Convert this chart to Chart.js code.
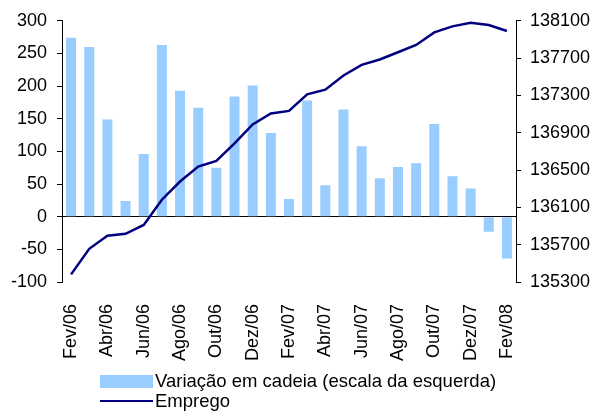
<!DOCTYPE html>
<html>
<head>
<meta charset="utf-8">
<script src="https://cdn.jsdelivr.net/npm/chart.js@4/dist/chart.umd.min.js"></script>
<style>
  body { margin: 0; background: #fff; }
  #wrap { position: relative; width: 591px; height: 412px; }
  #legend { position: absolute; left: 100px; top: 371px; font: 18.5px "Liberation Sans", Arial, sans-serif; color: #000; }
  .item { display: flex; align-items: center; height: 20px; }
  .box { width: 53px; height: 13px; background: #99ccff; margin-right: 2px; }
  .ln { width: 53px; height: 2px; background: #000080; margin-right: 2px; }
</style>
</head>
<body>
<div id="wrap">
  <canvas id="myChart" width="591" height="412"></canvas>
  <div id="legend">
    <div class="item"><span class="box"></span>Variação em cadeia (escala da esquerda)</div>
    <div class="item"><span class="ln"></span>Emprego</div>
  </div>
</div>
<script>
// meses fev/06 -> fev/08
const meses = ['Fev/06','Mar/06','Abr/06','Mai/06','Jun/06','Jul/06','Ago/06','Set/06','Out/06','Nov/06','Dez/06',
  'Jan/07','Fev/07','Mar/07','Abr/07','Mai/07','Jun/07','Jul/07','Ago/07','Set/07','Out/07','Nov/07','Dez/07',
  'Jan/08','Fev/08'];

// variação em cadeia (escala da esquerda)
const variacao = [274, 260, 149, 24, 96, 263, 193, 167, 75, 184, 201,
  128, 27, 178, 48, 164, 108, 59, 76, 82, 142, 62, 43, -23, -64];

// emprego (escala da direita)
const emprego = [135382, 135656, 135795, 135816, 135912, 136182, 136377, 136537, 136597, 136786, 136989,
  137106, 137134, 137312, 137362, 137514, 137628, 137685, 137763, 137841, 137976, 138040, 138080,
  138055, 137991];

const fonte = { family: '"Liberation Sans", Arial, sans-serif', size: 18 };

var myChart = new Chart("myChart", {
  data: {
    labels: meses,
    datasets: [
      {
        type: 'line',
        label: 'Emprego',
        data: emprego,
        yAxisID: 'y2',
        borderColor: '#000080',
        borderWidth: 2.5,
        pointRadius: 0,
        tension: 0,
        order: 0
      },
      {
        type: 'bar',
        label: 'Variação em cadeia (escala da esquerda)',
        data: variacao,
        yAxisID: 'y',
        backgroundColor: '#99ccff',
        barPercentage: 0.55,
        categoryPercentage: 1,
        order: 1
      }
    ]
  },
  options: {
    responsive: false,
    animation: false,
    layout: { padding: { top: 20, bottom: 0, left: 0, right: 0 } },
    plugins: {
      legend: { display: false },
      tooltip: { enabled: false }
    },
    scales: {
      x: {
        grid: { display: false },
        border: { display: false },
        ticks: {
          autoSkip: false,
          minRotation: 90,
          maxRotation: 90,
          padding: 14,
          color: '#000',
          font: fonte,
          callback: function (v, i) { return i % 2 === 0 ? meses[i] : ''; }
        },
        afterFit: function (s) { s.height = 130; }
      },
      y: {
        position: 'left',
        min: -100,
        max: 300,
        border: { display: true, color: '#000', width: 1 },
        grid: {
          color: ctx => ctx.tick && ctx.tick.value === 0 ? '#000' : 'rgba(0,0,0,0)',
          tickColor: '#000',
          tickLength: 5,
          lineWidth: 1
        },
        ticks: { stepSize: 50, color: '#000', font: fonte, padding: 10 },
        afterFit: function (s) { s.width = 62; }
      },
      y2: {
        position: 'right',
        min: 135300,
        max: 138100,
        border: { display: true, color: '#000', width: 1 },
        grid: { drawOnChartArea: false, tickColor: '#000', tickLength: 5 },
        ticks: {
          stepSize: 400, color: '#000', font: fonte, padding: 9,
          callback: v => String(v)
        },
        afterFit: function (s) { s.width = 75; }
      }
    }
  }
});
</script>
</body>
</html>
